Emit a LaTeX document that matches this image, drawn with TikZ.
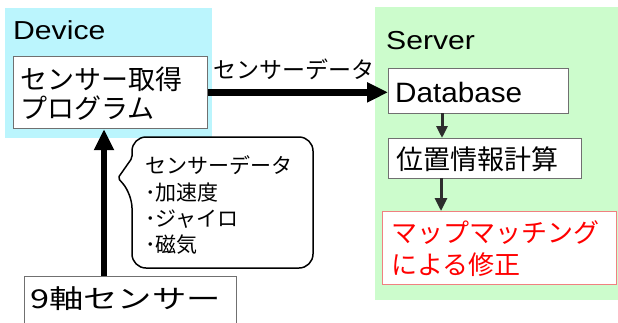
\documentclass[tikz,border=0pt]{standalone}
\usepackage{fontspec}
\usepackage{graphicx}
\setmainfont{Liberation Sans}
\newfontfamily\jp{Noto Sans CJK JP}
\usetikzlibrary{arrows.meta}

\definecolor{devcyan}{RGB}{187,245,253}
\definecolor{srvgreen}{RGB}{204,252,204}
\definecolor{boxgray}{RGB}{112,112,112}
\definecolor{redline}{RGB}{240,128,128}
\definecolor{arrowgray}{RGB}{45,45,45}

\begin{document}
\begin{tikzpicture}[x=1pt,y=-1pt,
  area/.style={draw=none, anchor=north west, inner sep=0pt},
  box/.style={draw=boxgray, line width=1.2pt, fill=white, anchor=north west, inner sep=0pt},
  txt/.style={anchor=base west, inner sep=0pt},
  latin/.style={txt, font=\fontsize{26pt}{30pt}\selectfont},
  jpbig/.style={txt, font=\jp\fontsize{27pt}{30pt}\selectfont},
  jpmid/.style={txt, font=\jp\fontsize{23pt}{26pt}\selectfont},
  jpsmall/.style={txt, font=\jp\fontsize{21pt}{26pt}\selectfont},
  bigarrow/.style={line width=6.5pt, -{Triangle[length=21pt,width=19pt]}},
  smallarrow/.style={draw=arrowgray, line width=3pt, -{Triangle[length=12pt,width=11pt]}},
  bubble/.style={draw=black, line width=1.5pt, fill=white}
]
\clip (0,0) rectangle (618,322);
\fill[white] (0,0) rectangle (618,322);

% device side
\node[area, fill=devcyan, minimum width=207pt, minimum height=130pt] (device) at (5,8) {};
\node[latin] (devicelabel) at (13,39) {\scalebox{1.16}[1]{Device}};
\node[box, minimum width=194.5pt, minimum height=72.5pt] (prog) at (12.5,55.5) {};
\node[jpbig] (progline1) at (20,89) {センサー取得};
\node[jpbig] (progline2) at (20,118) {プログラム};

% server side
\node[area, fill=srvgreen, minimum width=243pt, minimum height=293pt] (server) at (375,7) {};
\node[latin] (serverlabel) at (386,49.5) {\scalebox{1.16}[1]{Server}};
\node[box, minimum width=180pt, minimum height=45pt] (db) at (388,68) {};
\node[txt, font=\fontsize{28pt}{30pt}\selectfont] (dblabel) at (395,102) {\scalebox{1.06}[1]{Database}};
\node[box, minimum width=193pt, minimum height=40pt] (calc) at (388,138) {};
\node[jpbig] (calclabel) at (396,169) {位置情報計算};
\node[box, draw=redline, minimum width=234pt, minimum height=73pt] (fix) at (382,211) {};
\node[jpbig, font=\jp\fontsize{26pt}{30pt}\selectfont, text=red] (fixline1) at (391,242) {マップマッチング};
\node[jpbig, font=\jp\fontsize{26pt}{30pt}\selectfont, text=red] (fixline2) at (391,274) {による修正};

% sensor
\node[box, minimum width=212pt, minimum height=60pt] (sensor) at (24,276) {};
\node[txt, font=\jp\fontsize{26pt}{30pt}\selectfont] (sensorlabel) at (30,308) {\scalebox{1.32}[1]{9軸センサー}};

% speech bubble listing the sensor data
\draw[bubble, rounded corners=14pt] (222,137) -- (313,137) -- (313,268) -- (132,268) -- (132,194)
  [rounded corners=2pt] -- (118,178) -- (132,158) [rounded corners=14pt] -- (132,137) -- cycle;
\node[jpsmall] (bub1) at (145,173) {センサーデータ};
\node[jpsmall] (bub2) at (145,200) {･加速度};
\node[jpsmall] (bub3) at (145,226) {･ジャイロ};
\node[jpsmall] (bub4) at (145,252) {･磁気};

% connectors
\draw[bigarrow] (prog.east) -- (prog.east -| db.west);
\node[jpmid] (flowlabel) at (213,78) {センサーデータ};
\coordinate (sensorport) at (104,276);
\draw[bigarrow] (sensorport) -- (sensorport |- prog.south);
\coordinate (dbport) at (442,113);
\draw[smallarrow] (dbport) -- (dbport |- calc.north);
\coordinate (calcport) at (441,178);
\draw[smallarrow, -{Triangle[length=13pt,width=12pt]}] (calcport) -- (calcport |- fix.north);
\end{tikzpicture}
\end{document}
